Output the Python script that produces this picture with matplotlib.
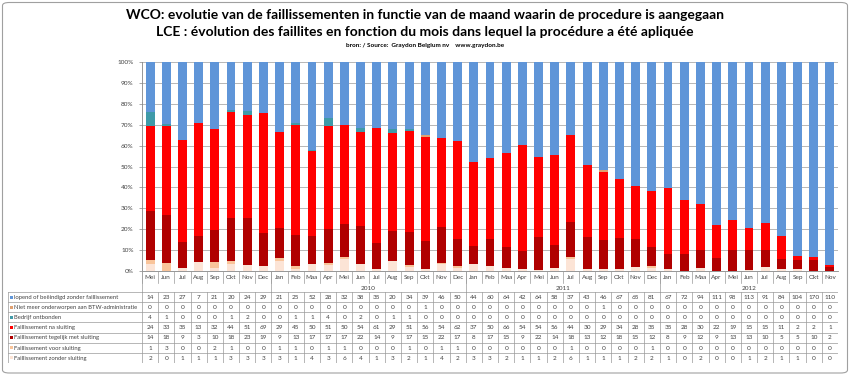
import numpy as np
import matplotlib.pyplot as plt
from matplotlib.patches import FancyBboxPatch, Rectangle

plt.rcParams['font.family'] = ['Lato', 'DejaVu Sans']

# Month labels (May 2009 - Nov 2012) and year groups
month_names = ['Jan', 'Feb', 'Maa', 'Apr', 'Mei', 'Jun', 'Jul', 'Aug', 'Sep', 'Okt', 'Nov', 'Dec']
months = month_names[4:] + month_names + month_names + month_names[:11]
year_labels = ['', '2010', '2011', '2012']
year_counts = [8, 12, 12, 11]

# Series values
lopend = [14, 23, 27, 7, 21, 20, 24, 29,
          21, 25, 52, 28, 32, 38, 35, 20, 34, 39, 46, 50,
          44, 60, 64, 42, 64, 58, 37, 43, 46, 67, 65, 81,
          67, 72, 94, 111, 98, 113, 91, 84, 104, 170, 110]
niet_btw = [0, 0, 0, 0, 0, 0, 0, 0,
            0, 0, 0, 0, 0, 0, 0, 0, 0, 1, 0, 0,
            0, 0, 0, 0, 0, 0, 0, 0, 1, 0, 0, 0,
            0, 0, 0, 0, 0, 0, 0, 0, 0, 0, 0]
ontbonden = [4, 1, 0, 0, 0, 1, 2, 0,
             0, 1, 1, 4, 0, 2, 0, 1, 1, 0, 0, 0,
             0, 0, 0, 0, 0, 0, 0, 0, 0, 0, 0, 0,
             0, 0, 0, 0, 0, 0, 0, 0, 0, 0, 0]
na_sluiting = [24, 33, 35, 13, 32, 44, 51, 69,
               29, 45, 50, 51, 50, 54, 61, 29, 51, 56, 54, 62,
               37, 50, 66, 54, 54, 56, 44, 30, 29, 34, 28, 35,
               35, 28, 30, 22, 19, 15, 15, 11, 2, 2, 1]
tegelijk = [14, 18, 9, 3, 10, 18, 23, 19,
            9, 13, 17, 17, 17, 22, 14, 9, 17, 15, 22, 17,
            8, 17, 15, 9, 22, 14, 18, 13, 12, 18, 15, 12,
            8, 9, 12, 9, 13, 13, 10, 5, 5, 10, 2]
voor_sluiting = [1, 3, 0, 0, 2, 1, 0, 0,
                 1, 1, 0, 1, 1, 0, 0, 0, 1, 0, 1, 1,
                 0, 0, 0, 0, 0, 0, 1, 0, 0, 0, 0, 1,
                 0, 0, 0, 0, 0, 0, 0, 0, 0, 0, 0]
zonder_sluiting = [2, 0, 1, 1, 1, 3, 3, 3,
                   3, 1, 4, 3, 6, 4, 1, 3, 2, 1, 4, 2,
                   3, 3, 2, 1, 1, 2, 6, 1, 1, 1, 2, 2,
                   1, 0, 2, 0, 0, 1, 2, 1, 1, 0, 0]

# stacking order, bottom to top
series = [
    ('Faillissement zonder sluiting', zonder_sluiting, '#fce4d6'),
    ('Faillissement voor sluiting', voor_sluiting, '#f9c49a'),
    ('Faillissement tegelijk met sluiting', tegelijk, '#b00000'),
    ('Faillissement na sluiting', na_sluiting, '#ff0000'),
    ('Bedrijf ontbonden', ontbonden, '#3f9aa8'),
    ('Niet meer onderworpen aan BTW-administratie', niet_btw, '#e0a070'),
    ('lopend of beëindigd zonder faillissement', lopend, '#5f95d8'),
]

n = len(months)
x = np.arange(n)
totals = np.sum([np.array(s[1]) for s in series], axis=0)

W, H = 850, 381
fig = plt.figure(figsize=(W / 100, H / 100), dpi=100)

# pixel layout helpers
px_left, px_right, px_top, px_bot = 142, 838, 62, 271
ax = fig.add_axes([px_left / W, 1 - px_bot / H, (px_right - px_left) / W, (px_bot - px_top) / H])

bottom = np.zeros(n)
for name, vals, col in series:
    pct = np.array(vals) / totals * 100
    ax.bar(x, pct, 0.55, bottom=bottom, color=col, zorder=3)
    bottom += pct

ax.set_xlim(-0.5, n - 0.5)
ax.set_ylim(0, 100)
ax.set_yticks(np.arange(0, 101, 10))
ax.set_yticklabels([f'{v}%' for v in range(0, 101, 10)], fontsize=4.6, color='#404040')
ax.tick_params(axis='y', length=2, width=0.5, color='#868686', pad=4)
ax.set_xticks([])
ax.grid(axis='y', color='#9a9a9a', linewidth=0.5, zorder=0)
for s in ['top', 'right']:
    ax.spines[s].set_visible(False)
ax.spines['left'].set_color('#868686')
ax.spines['left'].set_linewidth(0.6)
ax.spines['bottom'].set_color('#868686')
ax.spines['bottom'].set_linewidth(0.6)

# data table below the bars
tab_left, tab_bot = 8, 363
col_px = (px_right - px_left) / n
w_left = (px_left - tab_left) / col_px
tax = fig.add_axes([tab_left / W, 1 - tab_bot / H, (px_right - tab_left) / W, (tab_bot - px_bot) / H])
tax.set_xlim(-0.5 - w_left, n - 0.5)
tax.set_ylim(tab_bot - px_bot, 0)
tax.axis('off')

line_kw = dict(color='#9a9a9a', linewidth=0.5)
month_h, year_h = 12, 21
row_h = (tab_bot - px_bot - year_h) / 7

# month labels and dividers
for i, m in enumerate(months):
    tax.text(i, month_h / 2 + 0.5, m, ha='center', va='center', fontsize=4.6, color='#404040')
    tax.plot([i - 0.5, i - 0.5], [0, month_h], **line_kw)
tax.plot([n - 0.5, n - 0.5], [0, tab_bot - px_bot], **line_kw)

# year labels and group dividers
start = 0
for lab, cnt in zip(year_labels, year_counts):
    tax.plot([start - 0.5, start - 0.5], [0, year_h], **line_kw)
    tax.text(start + cnt / 2 - 0.5, (month_h + year_h) / 2 + 0.5, lab,
             ha='center', va='center', fontsize=4.6, color='#404040')
    start += cnt

# table rows, top to bottom
rows = series[::-1]
for r, (name, vals, col) in enumerate(rows):
    y0 = year_h + r * row_h
    yc = y0 + row_h / 2
    tax.plot([-0.5 - w_left, n - 0.5], [y0, y0], **line_kw)
    tax.add_patch(Rectangle((-0.5 - w_left + 0.12, yc - 1.5), 0.2, 3.0, color=col, lw=0))
    tax.text(-0.5 - w_left + 0.4, yc + 0.3, name, ha='left', va='center', fontsize=4.25, color='#404040')
    for i, v in enumerate(vals):
        tax.text(i, yc + 0.3, str(v), ha='center', va='center', fontsize=4.6, color='#404040')
tax.plot([-0.5 - w_left, n - 0.5], [tab_bot - px_bot - 0.3] * 2, **line_kw)
tax.plot([-0.5 - w_left] * 2, [year_h, tab_bot - px_bot], **line_kw)
for i in range(n):
    tax.plot([i - 0.5, i - 0.5], [year_h, tab_bot - px_bot], **line_kw)

# titles
fig.text(0.5, 1 - 15 / H, 'WCO: evolutie van de faillissementen in functie van de maand waarin de procedure is aangegaan',
         ha='center', va='center', fontsize=10, fontweight='bold')
fig.text(0.5, 1 - 32 / H, 'LCE : évolution des faillites en fonction du mois dans lequel la procédure a été apliquée',
         ha='center', va='center', fontsize=10, fontweight='bold')
fig.text(0.5, 1 - 45 / H, 'bron: / Source:  Graydon Belgium nv    www.graydon.be',
         ha='center', va='center', fontsize=4.6, fontweight='bold')

# chart frame
fig.patches.append(FancyBboxPatch((2.5 / W, 8 / H), 1 - 5 / W, 1 - 10.5 / H,
                                  boxstyle='round,pad=0,rounding_size=0.008',
                                  transform=fig.transFigure, fill=False,
                                  edgecolor='#a0a0a0', linewidth=0.8))

plt.savefig('out.png', dpi=100)
plt.close()
